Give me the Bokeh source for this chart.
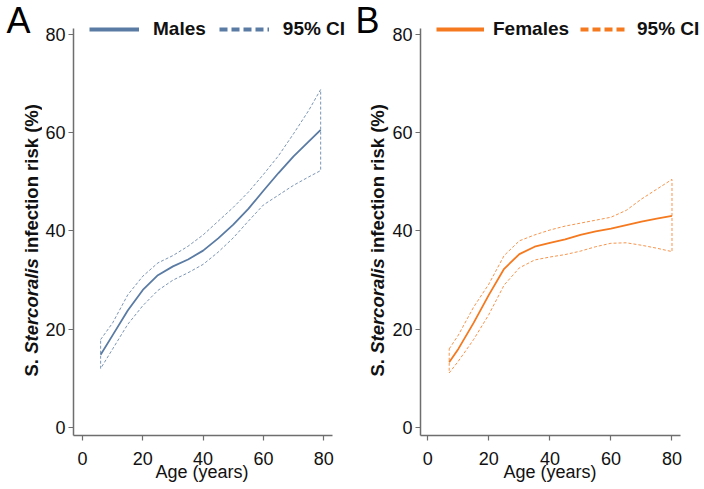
from bokeh.plotting import figure
from bokeh.layouts import row
from bokeh.models import Legend, LegendItem, Label, FixedTicker, Range1d, Plot
from bokeh.embed import file_html
from bokeh.resources import INLINE

# ---------------- data ----------------
age_m = [6, 10, 15, 20, 25, 30, 35, 40, 45, 50, 55, 60, 65, 70, 75, 79]
risk_m = [14.8, 18.8, 23.8, 28.0, 31.0, 32.8, 34.2, 36.0, 38.5, 41.3, 44.5, 48.2, 51.8, 55.2, 58.2, 60.6]
upper_m = [17.9, 21.3, 27.0, 30.8, 33.5, 35.0, 36.9, 39.2, 42.0, 44.8, 47.9, 51.5, 55.3, 59.8, 64.5, 68.8]
lower_m = [12.0, 16.0, 21.0, 24.8, 27.9, 30.0, 31.5, 33.2, 35.7, 38.6, 42.0, 45.3, 47.3, 49.3, 51.0, 52.3]

age_f = [7, 10, 15, 20, 25, 30, 35, 40, 45, 50, 55, 60, 65, 70, 75, 80]
risk_f = [13.3, 16.0, 21.3, 27.0, 32.3, 35.3, 36.8, 37.6, 38.3, 39.2, 39.9, 40.5, 41.2, 41.9, 42.5, 43.1]
upper_f = [16.0, 18.8, 24.5, 29.2, 35.0, 38.0, 39.2, 40.2, 41.0, 41.6, 42.2, 42.8, 44.2, 46.5, 48.5, 50.5]
lower_f = [11.1, 13.5, 17.9, 23.0, 29.0, 32.5, 34.1, 34.7, 35.2, 35.9, 36.8, 37.5, 37.6, 37.1, 36.5, 35.8]

x_ticks = [0, 20, 40, 60, 80]
y_ticks = [0, 20, 40, 60, 80]

panel_letters = ["A", "B"]
series_names = ["Males", "Females"]
ci_name = "95% CI"
x_label = "Age (years)"
y_label_parts = ["S.", "Stercoralis", "infection risk (%)"]

FONT = "Liberation Sans"
AXIS_COL = "#6e6e6e"
H = 486
TOP, BOTTOM = 0, 51
Y_LO, Y_AX_HI, Y_HI = -1.63, 81.3, 86.92
NBSP = "\u00a0"


def make_strip(width, letter, letter_x, label_x):
    s = Plot(width=width, height=H, output_backend="svg", toolbar_location=None,
             title=None, x_range=Range1d(0, width), y_range=Range1d(H - BOTTOM, TOP),
             min_border_left=0, min_border_right=0, min_border_top=TOP,
             min_border_bottom=BOTTOM, outline_line_color=None)
    try:
        s.frame_align = False
    except Exception:
        pass
    s.add_layout(Label(x=letter_x, y=20, text=letter, text_font=FONT, text_font_size="36px",
                       text_baseline="alphabetic", text_align="left", text_color="#000000"))
    fs = 18.5
    common = dict(x=label_x, angle=90, angle_units="deg", text_baseline="middle",
                  text_align="left", text_font=FONT, text_font_size=f"{fs}px",
                  text_color="#111111")
    y0 = 376
    y1 = y0 - (0.945 + 0.278) * fs
    y2 = y1 - (5.169 + 0.278) * fs
    s.add_layout(Label(y=y0, text=y_label_parts[0], text_font_style="bold", **common))
    s.add_layout(Label(y=y1, text=y_label_parts[1], text_font_style="bold italic", **common))
    s.add_layout(Label(y=y2, text=y_label_parts[2], text_font_style="bold", **common))
    return s


def make_panel(name, color, age, risk, upper, lower, width, xr, x_ax_hi, border_right,
               glyph_w, standoff, spacing, label_pad):
    p = figure(width=width, height=H, output_backend="svg", toolbar_location=None,
               x_range=Range1d(*xr), y_range=Range1d(Y_LO, Y_HI),
               min_border_left=30, min_border_right=border_right,
               min_border_top=TOP, min_border_bottom=BOTTOM)
    p.outline_line_color = None
    p.xgrid.visible = False
    p.ygrid.visible = False

    for ax in (p.xaxis[0], p.yaxis[0]):
        ax.axis_line_color = AXIS_COL
        ax.axis_line_width = 1.5
        ax.major_tick_line_color = AXIS_COL
        ax.major_tick_line_width = 1.2
        ax.major_tick_out = 5
        ax.major_tick_in = 0
        ax.minor_tick_out = 0
        ax.minor_tick_in = 0
        ax.major_label_text_font = FONT
        ax.major_label_text_font_size = "18px"
        ax.major_label_text_color = "#111111"
    p.xaxis.ticker = FixedTicker(ticks=x_ticks)
    p.yaxis.ticker = FixedTicker(ticks=y_ticks)
    p.xaxis.bounds = (xr[0], x_ax_hi)
    p.yaxis.bounds = (Y_LO, Y_AX_HI)
    p.xaxis.major_label_standoff = 11
    p.yaxis.major_label_standoff = 3
    # pad with no-break spaces so the label centres under the drawn axis line
    p.xaxis.axis_label = x_label + NBSP * label_pad
    p.xaxis.axis_label_text_font = FONT
    p.xaxis.axis_label_text_font_size = "18px"
    p.xaxis.axis_label_text_font_style = "normal"
    p.xaxis.axis_label_text_color = "#111111"
    p.xaxis.axis_label_standoff = -6

    # CI outline (closed)
    cx = list(age) + list(age[::-1]) + [age[0]]
    cy = list(upper) + list(lower[::-1]) + [upper[0]]
    p.line(cx, cy, line_color=color, line_width=1, line_dash="3 2", line_alpha=0.8)
    p.line(age, risk, line_color=color, line_width=1.8)

    # legend proxies
    nan = float("nan")
    r_main = p.line([nan], [nan], line_color=color, line_width=4)
    r_ci = p.line([nan], [nan], line_color=color, line_width=4, line_dash="8 4")
    legend = Legend(items=[LegendItem(label=name, renderers=[r_main]),
                           LegendItem(label=ci_name, renderers=[r_ci])],
                    orientation="horizontal", location=(16, 395),
                    glyph_width=glyph_w, glyph_height=20, label_standoff=standoff,
                    spacing=spacing, padding=0, margin=0, border_line_color=None,
                    background_fill_alpha=0,
                    label_text_font=FONT, label_text_font_size="19px",
                    label_text_font_style="bold", label_text_color="#111111")
    p.add_layout(legend)
    return p


sA = make_strip(42, panel_letters[0], 6, 31)
pA = make_panel(series_names[0], "#5a7ba3", age_m, risk_m, upper_m, lower_m,
                310, (-3.0, 88.9), 83.0, 2, 50, 14, 13, 4)
sB = make_strip(37, panel_letters[1], 3, 25)
pB = make_panel(series_names[1], "#f5791f", age_f, risk_f, upper_f, lower_f,
                315, (-2.4, 90.65), 82.7, 0, 48, 9, 11, 5)

layout = row(sA, pA, sB, pB)
open("out.html", "w").write(file_html(layout, INLINE))
